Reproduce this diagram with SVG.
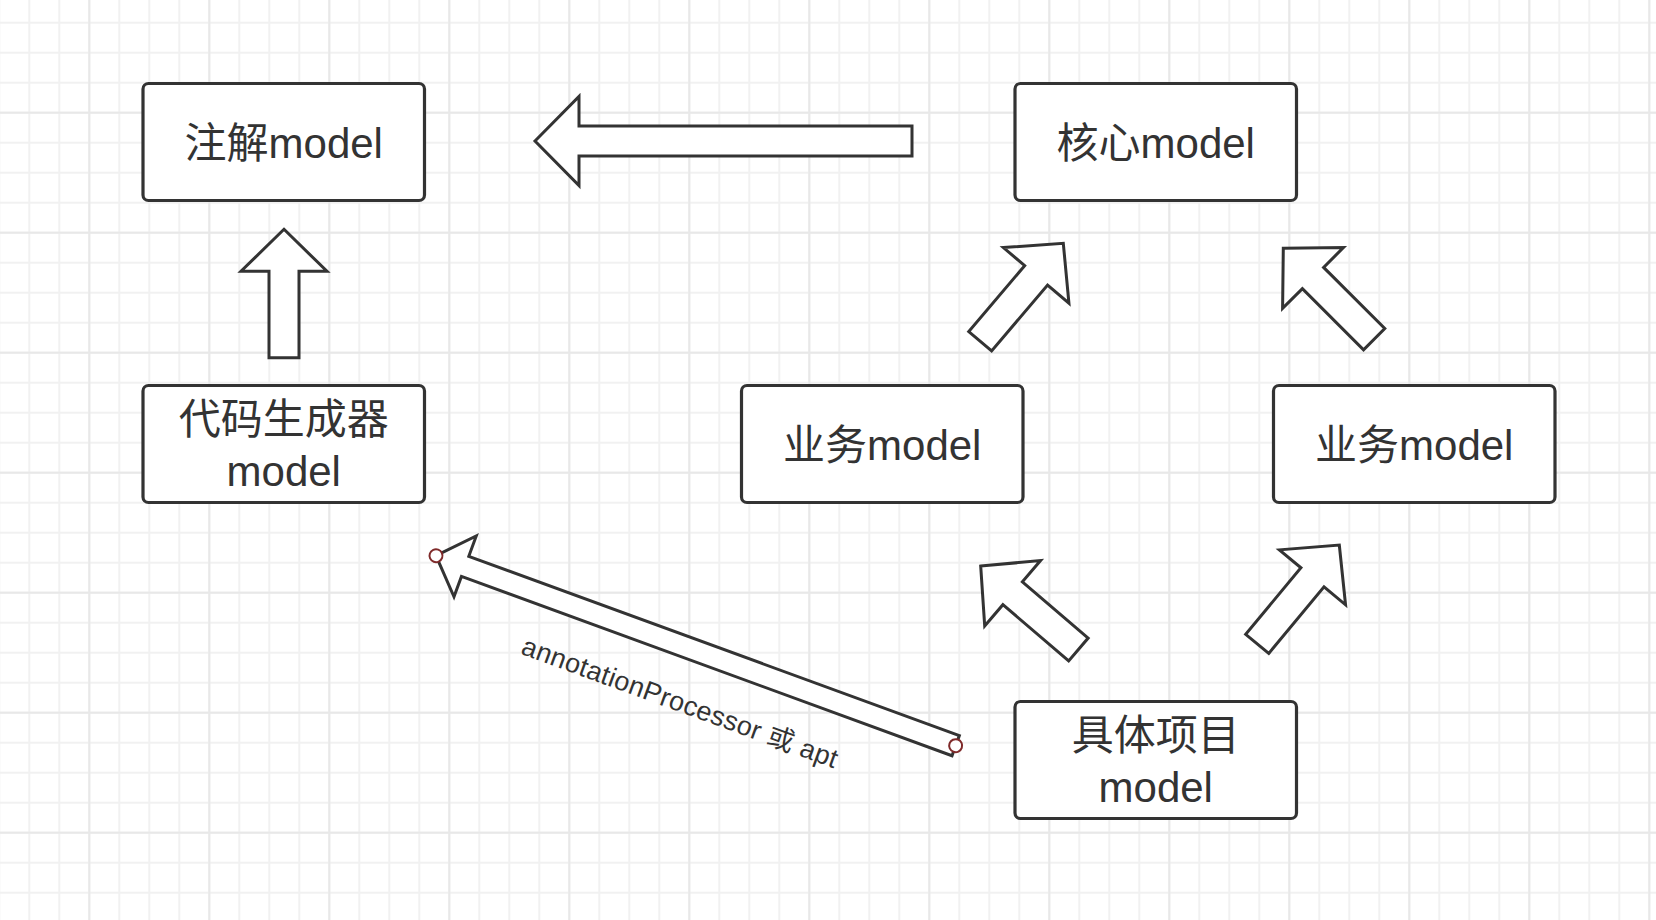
<svg xmlns="http://www.w3.org/2000/svg" xmlns:xlink="http://www.w3.org/1999/xlink" width="1656" height="920" viewBox="0 0 1656 920">
  <style>
    .box { fill: #ffffff; stroke: #333333; stroke-width: 3.2; }
    .lbl { font-family: "Liberation Sans", "Noto Sans CJK SC", sans-serif; font-size: 42px; fill: #333333; text-anchor: middle; }
    .arw { fill: #ffffff; stroke: #333333; stroke-width: 3; stroke-linejoin: miter; }
    .handle { fill: #ffffff; stroke: #7f2a2a; stroke-width: 2; }
    .elbl { font-family: "Liberation Sans", "Noto Sans CJK SC", sans-serif; font-size: 27px; fill: #333333; text-anchor: middle; letter-spacing: 0.3px; }
  </style>
  <defs>
    <pattern id="gridMinor" patternUnits="userSpaceOnUse" x="14.3" y="7.7" width="30" height="30">
      <path d="M15,0 V30 M0,15 H30" fill="none" stroke="#f1f1f1" stroke-width="2"/>
    </pattern>
    <pattern id="gridMajor" patternUnits="userSpaceOnUse" x="29.3" y="52.7" width="120" height="120">
      <path d="M60,0 V120 M0,60 H120" fill="none" stroke="#e8e8e8" stroke-width="2"/>
    </pattern>
    <path id="blockArrow" d="M0,0 L43,42 L15,42 L15,128.5 L-15,128.5 L-15,42 L-43,42 Z"/>
  </defs>

  <rect x="0" y="0" width="1656" height="920" fill="#ffffff"/>
  <rect x="0" y="0" width="1656" height="920" fill="url(#gridMinor)"/>
  <rect x="0" y="0" width="1656" height="920" fill="url(#gridMajor)"/>

  <g id="connectors">
    <path class="arw" d="M535,141 L579,96.5 L579,126 L912,126 L912,156 L579,156 L579,185.5 Z"/>
    <use xlink:href="#blockArrow" class="arw" transform="translate(284,229.3)"/>
    <use xlink:href="#blockArrow" class="arw" transform="translate(1063.3,243.3) rotate(40.3)"/>
    <use xlink:href="#blockArrow" class="arw" transform="translate(1283.3,248.3) rotate(-45)"/>
    <use xlink:href="#blockArrow" class="arw" transform="translate(980.7,566) rotate(-49.5)"/>
    <use xlink:href="#blockArrow" class="arw" transform="translate(1339.3,545) rotate(39.7)"/>
    <g transform="translate(436,555.7) rotate(20.08)">
      <path class="arw" d="M0,0 L31,-32.4 L31,-10.7 L553.3,-10.7 L553.3,10.7 L31,10.7 L31,32.4 Z"/>
      <circle class="handle" cx="0" cy="0" r="6.5"/>
      <circle class="handle" cx="553.3" cy="0" r="6.5"/>
    </g>
    <text class="elbl" transform="translate(677,711) rotate(20.08)">annotationProcessor 或 apt</text>
  </g>

  <g id="node-annotation">
    <rect class="box" x="143" y="83.5" width="281.5" height="117" rx="5.5"/>
    <text class="lbl" x="283.75" y="157.5">注解model</text>
  </g>
  <g id="node-core">
    <rect class="box" x="1015" y="83.5" width="281.5" height="117" rx="5.5"/>
    <text class="lbl" x="1155.75" y="157.5">核心model</text>
  </g>
  <g id="node-codegen">
    <rect class="box" x="143" y="385.5" width="281.5" height="117" rx="5.5"/>
    <text class="lbl" x="283.75" y="433.5">代码生成器</text>
    <text class="lbl" x="283.75" y="485.5">model</text>
  </g>
  <g id="node-biz-left">
    <rect class="box" x="741.5" y="385.5" width="281.5" height="117" rx="5.5"/>
    <text class="lbl" x="882.25" y="459.5">业务model</text>
  </g>
  <g id="node-biz-right">
    <rect class="box" x="1273.5" y="385.5" width="281.5" height="117" rx="5.5"/>
    <text class="lbl" x="1414.25" y="459.5">业务model</text>
  </g>
  <g id="node-project">
    <rect class="box" x="1015" y="701.5" width="281.5" height="117" rx="5.5"/>
    <text class="lbl" x="1155.75" y="749.8">具体项目</text>
    <text class="lbl" x="1155.75" y="801.8">model</text>
  </g>
</svg>
